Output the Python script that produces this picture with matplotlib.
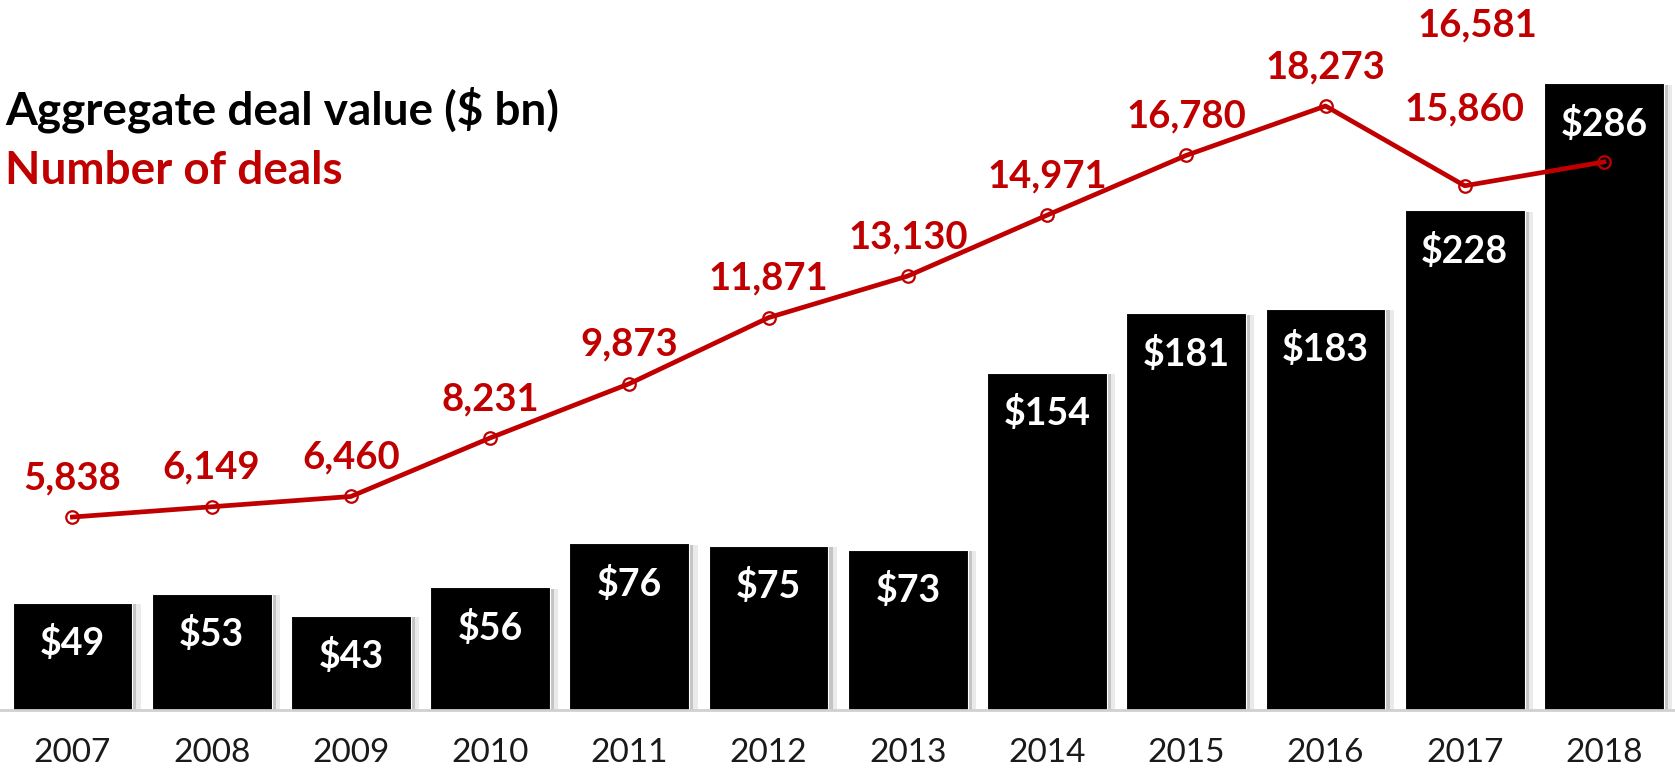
import matplotlib.pyplot as plt
import matplotlib.patheffects as pe

years = ['2007', '2008', '2009', '2010', '2011', '2012',
         '2013', '2014', '2015', '2016', '2017', '2018']
deal_value = [49, 53, 43, 56, 76, 75, 73, 154, 181, 183, 228, 286]
deal_count = [5838, 6149, 6460, 8231, 9873, 11871,
              13130, 14971, 16780, 18273, 15860, 16581]

RED = '#C00000'
plt.rcParams['font.family'] = ['Lato', 'DejaVu Sans']

fig = plt.figure(figsize=(16.75, 7.69), dpi=100)
ax = fig.add_axes([0, 0.0767, 1, 0.9233])
x = list(range(len(years)))

bars = ax.bar(x, deal_value, width=0.86, color='black', edgecolor='white',
              linewidth=0.8, zorder=2)
for b in bars:
    b.set_path_effects([pe.SimplePatchShadow(offset=(3, -1), shadow_rgbFace='#777777', alpha=0.35),
                        pe.SimplePatchShadow(offset=(6, -1), shadow_rgbFace='#999999', alpha=0.2),
                        pe.Normal()])

for xi, v in zip(x, deal_value):
    ax.annotate(f'${v}', (xi, v), xytext=(0, -29), textcoords='offset points',
                ha='center', va='center', color='white', fontsize=27,
                fontweight='bold', zorder=3)

ax.set_xlim(-0.52, 11.51)
ax.set_ylim(0, 324)
ax.set_xticks(x)
ax.set_xticklabels(years, fontsize=24, color='#1a1a1a')
ax.tick_params(axis='x', length=0, pad=20)
ax.set_yticks([])
for s in ['top', 'left', 'right']:
    ax.spines[s].set_visible(False)
ax.spines['bottom'].set_color('#d0d0d0')
ax.spines['bottom'].set_linewidth(2)

# deal count on its own scale
ax2 = ax.twinx()
ax2.set_ylim(0, 21480)
ax2.plot(x, deal_count, color=RED, linewidth=3.4, marker='o', markersize=9,
         markerfacecolor='none', markeredgecolor=RED, markeredgewidth=1.6)
ax2.set_yticks([])
for s in ax2.spines.values():
    s.set_visible(False)

offsets = [(0, 28)] * 10 + [(0, 55), (-91, 98)]
for xi, v, off in zip(x, deal_count, offsets):
    ax2.annotate(f'{v:,}', (xi, v), xytext=off, textcoords='offset points',
                 ha='center', va='center', color=RED, fontsize=27.5,
                 fontweight='bold')

fig.text(0.003, 1 - 110 / 769, 'Aggregate deal value ($ bn)', fontsize=33,
         fontweight='bold', color='black', va='center', ha='left')
fig.text(0.003, 1 - 171 / 769, 'Number of deals', fontsize=33,
         fontweight='bold', color=RED, va='center', ha='left')

fig.savefig('out.png', dpi=100)
